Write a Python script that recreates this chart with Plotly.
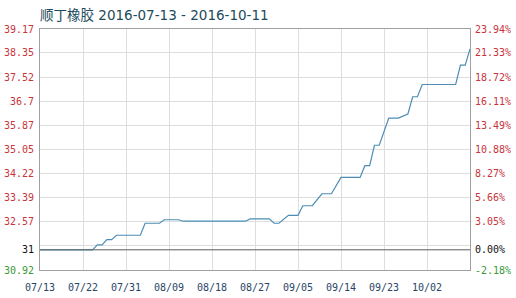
import plotly.graph_objects as go
import pandas as pd

# ---- data ----
day_offsets = [0, 11, 12, 13, 14, 15, 16, 21, 22, 25, 26, 29, 30, 43, 44, 48, 49, 50,
               52, 54, 55, 57, 59, 61, 63, 67, 68, 69, 70, 71, 73, 75, 77, 78, 79, 80,
               87, 88, 89, 90]
prices = [31.61, 31.61, 31.78, 31.78, 31.96, 31.96, 32.11, 32.11, 32.52, 32.52,
          32.64, 32.64, 32.59, 32.59, 32.67, 32.67, 32.52, 32.52, 32.79, 32.79,
          33.12, 33.12, 33.53, 33.53, 34.09, 34.09, 34.49, 34.49, 35.19, 35.19,
          36.12, 36.12, 36.26, 36.85, 36.85, 37.27, 37.27, 37.93, 37.93, 38.49]
start_date = "2016-07-13"
end_date = "2016-10-11"
base_price = 31.61

left_tick_vals = [30.92, 31.61, 31.745, 32.57, 33.39, 34.22, 35.05, 35.87, 36.70, 37.52, 38.35, 39.17]
left_tick_text = ["30.92", "31", "", "32.57", "33.39", "34.22", "35.05", "35.87", "36.7", "37.52", "38.35", "39.17"]
right_tick_text = ["-2.18%", "0.00%", "", "3.05%", "5.66%", "8.27%", "10.88%", "13.49%", "16.11%", "18.72%", "21.33%", "23.94%"]
x_tick_labels = ["07/13", "07/22", "07/31", "08/09", "08/18", "08/27", "09/05", "09/14", "09/23", "10/02"]

RED = "#c8343c"
GREEN = "#3a9a3a"
BLACK = "#111111"

def colorize(texts, vals):
    out = []
    for t, v in zip(texts, vals):
        if t == "":
            out.append("")
        elif abs(v - base_price) < 1e-6:
            out.append(f'<span style="color:{BLACK}">{t}</span>')
        elif v < base_price:
            out.append(f'<span style="color:{GREEN}">{t}</span>')
        else:
            out.append(f'<span style="color:{RED}">{t}</span>')
    return out

start = pd.Timestamp(start_date)
dates = [start + pd.Timedelta(days=d) for d in day_offsets]
x_tick_vals = [start + pd.Timedelta(days=9 * i) for i in range(len(x_tick_labels))]

fig = go.Figure()
fig.add_trace(go.Scatter(x=dates, y=prices, mode="lines",
                         line=dict(color="#4b8db5", width=1.2),
                         hoverinfo="skip", showlegend=False))
# invisible trace to activate right axis
fig.add_trace(go.Scatter(x=[dates[0]], y=[prices[0]], yaxis="y2", mode="lines",
                         line=dict(width=0), showlegend=False, hoverinfo="skip"))

fig.add_shape(type="line", xref="paper", x0=0, x1=1, yref="y", y0=base_price, y1=base_price,
              line=dict(color="#666666", width=1))

tickfont = dict(family="DejaVu Sans Mono, monospace", size=10, color=RED)

fig.update_layout(
    width=516, height=298,
    margin=dict(l=40, r=46, t=29, b=28, autoexpand=False),
    paper_bgcolor="white", plot_bgcolor="white",
    title=dict(text="顺丁橡胶 2016-07-13 - 2016-10-11",
               x=40 / 516, xanchor="left", y=1 - 15 / 298, yanchor="middle",
               font=dict(family="DejaVu Sans, Noto Sans CJK SC", size=13.5, color="#1d4a5c")),
    xaxis=dict(type="date", range=[start, pd.Timestamp(end_date)],
               tickvals=x_tick_vals, ticktext=x_tick_labels,
               showgrid=True, gridcolor="#dedede", gridwidth=1,
               showline=True, linecolor="#a0a0a0", linewidth=1, mirror=True,
               ticks="", ticklabelstandoff=8, automargin=False,
               tickfont=dict(family="DejaVu Sans Mono, monospace", size=10, color="#2a4566"),
               zeroline=False, fixedrange=True),
    yaxis=dict(range=[30.92, 39.17], tickvals=left_tick_vals,
               ticktext=colorize(left_tick_text, left_tick_vals),
               showgrid=True, gridcolor="#dedede", gridwidth=1,
               showline=True, linecolor="#a0a0a0", linewidth=1, automargin=False,
               ticks="", ticklabelstandoff=3, tickfont=tickfont, zeroline=False, fixedrange=True),
    yaxis2=dict(range=[30.92, 39.17], overlaying="y", side="right",
                tickvals=left_tick_vals, ticktext=colorize(right_tick_text, left_tick_vals),
                showgrid=False, showline=True, linecolor="#a0a0a0", linewidth=1, automargin=False,
                ticks="", ticklabelstandoff=2, tickfont=tickfont, zeroline=False, fixedrange=True),
)

fig.write_html("out.html")
